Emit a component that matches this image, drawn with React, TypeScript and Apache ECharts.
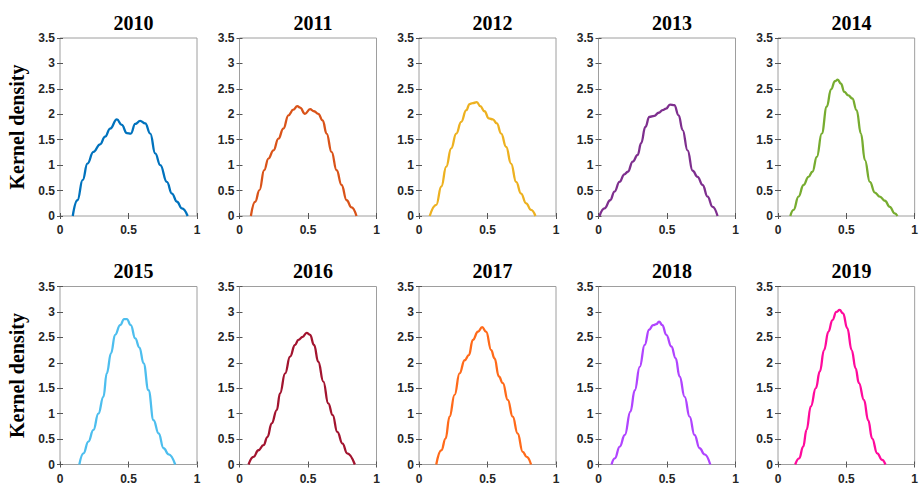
import React, { useEffect, useRef } from "react";
import * as echarts from "echarts";

const years = ["2010", "2011", "2012", "2013", "2014", "2015", "2016", "2017", "2018", "2019"];
const colors = ["#0072BD", "#D95319", "#EDB120", "#7E2F8E", "#77AC30", "#4DBEEE", "#A2142F", "#FF6A1A", "#B044FF", "#FF0A9C"];
const yTicks = [0, 0.5, 1, 1.5, 2, 2.5, 3, 3.5];
const xTicks = [0, 0.5, 1];

const d2010 = [[0.093,0],[0.127,0.31],[0.166,0.71],[0.2,1.03],[0.244,1.26],[0.293,1.41],[0.329,1.56],[0.366,1.72],[0.415,1.9],[0.451,1.79],[0.488,1.63],[0.517,1.62],[0.549,1.81],[0.585,1.87],[0.622,1.82],[0.659,1.62],[0.695,1.23],[0.732,1.0],[0.78,0.67],[0.817,0.44],[0.854,0.28],[0.89,0.15],[0.932,0]];
const d2011 = [[0.083,0],[0.114,0.28],[0.146,0.51],[0.18,0.9],[0.211,1.13],[0.248,1.29],[0.284,1.52],[0.32,1.72],[0.357,1.98],[0.393,2.09],[0.422,2.16],[0.442,2.13],[0.478,2.01],[0.515,2.1],[0.544,2.06],[0.575,2.01],[0.607,1.88],[0.636,1.62],[0.672,1.26],[0.709,0.9],[0.745,0.61],[0.782,0.31],[0.818,0.17],[0.854,0]];
const d2012 = [[0.078,0],[0.126,0.22],[0.163,0.58],[0.199,0.97],[0.235,1.33],[0.272,1.62],[0.308,1.85],[0.345,2.08],[0.369,2.2],[0.393,2.22],[0.422,2.24],[0.447,2.16],[0.478,2.06],[0.51,1.92],[0.539,1.9],[0.568,1.82],[0.6,1.62],[0.636,1.36],[0.672,1.03],[0.709,0.67],[0.745,0.44],[0.782,0.25],[0.818,0.12],[0.85,0]];
const d2013 = [[0.007,0],[0.044,0.15],[0.085,0.31],[0.117,0.48],[0.153,0.67],[0.189,0.82],[0.214,0.87],[0.25,1.07],[0.286,1.2],[0.311,1.43],[0.342,1.75],[0.371,1.95],[0.408,1.97],[0.439,2.03],[0.468,2.08],[0.493,2.11],[0.522,2.19],[0.553,2.18],[0.585,1.98],[0.614,1.69],[0.65,1.29],[0.687,0.89],[0.723,0.77],[0.76,0.61],[0.796,0.38],[0.833,0.18],[0.869,0]];
const d2014 = [[0.09,0],[0.114,0.12],[0.15,0.38],[0.187,0.61],[0.223,0.77],[0.252,0.87],[0.284,1.16],[0.32,1.62],[0.357,2.15],[0.388,2.49],[0.417,2.65],[0.437,2.68],[0.461,2.6],[0.485,2.44],[0.515,2.37],[0.544,2.31],[0.575,2.08],[0.607,1.62],[0.636,1.1],[0.672,0.67],[0.709,0.46],[0.745,0.38],[0.782,0.3],[0.818,0.18],[0.854,0.05],[0.874,0]];
const d2015 = [[0.141,0],[0.171,0.22],[0.207,0.45],[0.244,0.68],[0.28,1.0],[0.317,1.33],[0.341,1.79],[0.373,2.19],[0.402,2.55],[0.439,2.74],[0.468,2.86],[0.488,2.86],[0.517,2.74],[0.549,2.48],[0.58,2.3],[0.61,1.99],[0.646,1.46],[0.683,0.87],[0.72,0.61],[0.756,0.32],[0.793,0.2],[0.841,0]];
const d2016 = [[0.066,0],[0.102,0.15],[0.138,0.28],[0.175,0.38],[0.204,0.54],[0.235,0.81],[0.272,1.07],[0.296,1.4],[0.333,1.79],[0.369,2.12],[0.405,2.35],[0.43,2.45],[0.461,2.51],[0.49,2.59],[0.515,2.55],[0.544,2.35],[0.575,2.02],[0.612,1.63],[0.648,1.2],[0.68,0.97],[0.714,0.64],[0.752,0.41],[0.786,0.22],[0.842,0]];
const d2017 = [[0.126,0],[0.163,0.28],[0.194,0.51],[0.223,0.94],[0.26,1.37],[0.296,1.79],[0.333,2.05],[0.364,2.15],[0.393,2.45],[0.43,2.61],[0.461,2.7],[0.49,2.61],[0.527,2.25],[0.551,2.09],[0.583,1.73],[0.612,1.6],[0.648,1.27],[0.684,0.94],[0.72,0.61],[0.757,0.25],[0.786,0.15],[0.818,0]];
const d2018 = [[0.095,0],[0.119,0.12],[0.155,0.35],[0.192,0.58],[0.233,1.04],[0.265,1.46],[0.301,1.92],[0.337,2.35],[0.369,2.65],[0.398,2.74],[0.422,2.76],[0.442,2.81],[0.466,2.74],[0.495,2.55],[0.532,2.32],[0.563,2.09],[0.592,1.73],[0.629,1.33],[0.665,0.94],[0.701,0.58],[0.738,0.32],[0.774,0.2],[0.816,0]];
const d2019 = [[0.126,0],[0.155,0.12],[0.184,0.35],[0.209,0.68],[0.24,1.14],[0.277,1.5],[0.306,1.83],[0.337,2.25],[0.369,2.61],[0.398,2.84],[0.427,3.0],[0.451,3.04],[0.476,2.97],[0.507,2.68],[0.539,2.25],[0.568,1.89],[0.592,1.6],[0.629,1.27],[0.66,0.87],[0.689,0.51],[0.726,0.22],[0.762,0.09],[0.786,0]];

const seriesData = [d2010, d2011, d2012, d2013, d2014, d2015, d2016, d2017, d2018, d2019];

export default function App() {
  const ref = useRef<HTMLDivElement>(null);
  useEffect(() => {
    if (!ref.current) return;
    const chart = echarts.init(ref.current, null, { renderer: "svg" });
    const lefts = [60, 239.5, 419, 598.5, 778];
    const tops = [38, 286.5];
    const W = 137;
    const H = 178;
    const axisGray = "#9e9e9e";
    const labelStyle = { color: "#262626", fontFamily: "Arial, 'Liberation Sans', sans-serif", fontWeight: "bold" as const, fontSize: 12 };
    const grids: any[] = [];
    const xAxes: any[] = [];
    const yAxes: any[] = [];
    const series: any[] = [];
    const titles: any[] = [];
    const graphics: any[] = [];
    years.forEach((yr, i) => {
      const r = Math.floor(i / 5);
      const c = i % 5;
      grids.push({ left: lefts[c], top: tops[r], width: W, height: H, show: true, borderColor: axisGray, borderWidth: 1, backgroundColor: "#fff" });
      const tick = { show: true, inside: true, length: 3, lineStyle: { color: "#555", width: 1 } };
      xAxes.push({
        type: "value", gridIndex: i, min: 0, max: 1, interval: 0.5, position: "bottom",
        axisLine: { show: false }, axisTick: tick, splitLine: { show: false },
        axisLabel: { ...labelStyle, margin: 8, formatter: (v: number) => (xTicks.includes(v) ? String(v) : "") },
      });
      xAxes.push({
        type: "value", gridIndex: i, min: 0, max: 1, interval: 0.5, position: "top",
        axisLine: { show: false }, axisTick: tick, splitLine: { show: false }, axisLabel: { show: false },
      });
      yAxes.push({
        type: "value", gridIndex: i, min: 0, max: 3.5, interval: 0.5, position: "left",
        axisLine: { show: false }, axisTick: tick, splitLine: { show: false },
        axisLabel: { ...labelStyle, margin: 5, formatter: (v: number) => (yTicks.includes(v) ? String(v) : "") },
      });
      yAxes.push({
        type: "value", gridIndex: i, min: 0, max: 3.5, interval: 0.5, position: "right",
        axisLine: { show: false }, axisTick: tick, splitLine: { show: false }, axisLabel: { show: false },
      });
      series.push({
        type: "line", name: yr, xAxisIndex: 2 * i, yAxisIndex: 2 * i, data: seriesData[i],
        showSymbol: false, smooth: 0.45, smoothMonotone: "x",
        lineStyle: { color: colors[i], width: 2.3 }, itemStyle: { color: colors[i] },
      });
      titles.push({
        text: yr, left: lefts[c] + W / 2, top: r === 0 ? 8 : 256, textAlign: "center",
        textStyle: { fontFamily: "'Times New Roman', 'Liberation Serif', serif", fontWeight: "bold", fontSize: 20, color: "#000" },
      });
    });
    [127, 375.5].forEach((cy) => {
      graphics.push({
        type: "text", x: 17, y: cy, rotation: Math.PI / 2,
        style: { text: "Kernel density", textAlign: "center", textVerticalAlign: "middle", font: "bold 20px 'Times New Roman', 'Liberation Serif', serif", fill: "#000" },
      });
    });
    chart.setOption({
      animation: false,
      backgroundColor: "#fff",
      title: titles,
      grid: grids,
      xAxis: xAxes,
      yAxis: yAxes,
      series,
      graphic: graphics,
    });
    return () => chart.dispose();
  }, []);
  return <div ref={ref} style={{ position: "fixed", left: 0, top: 0, width: 921, height: 485 }} />;
}
